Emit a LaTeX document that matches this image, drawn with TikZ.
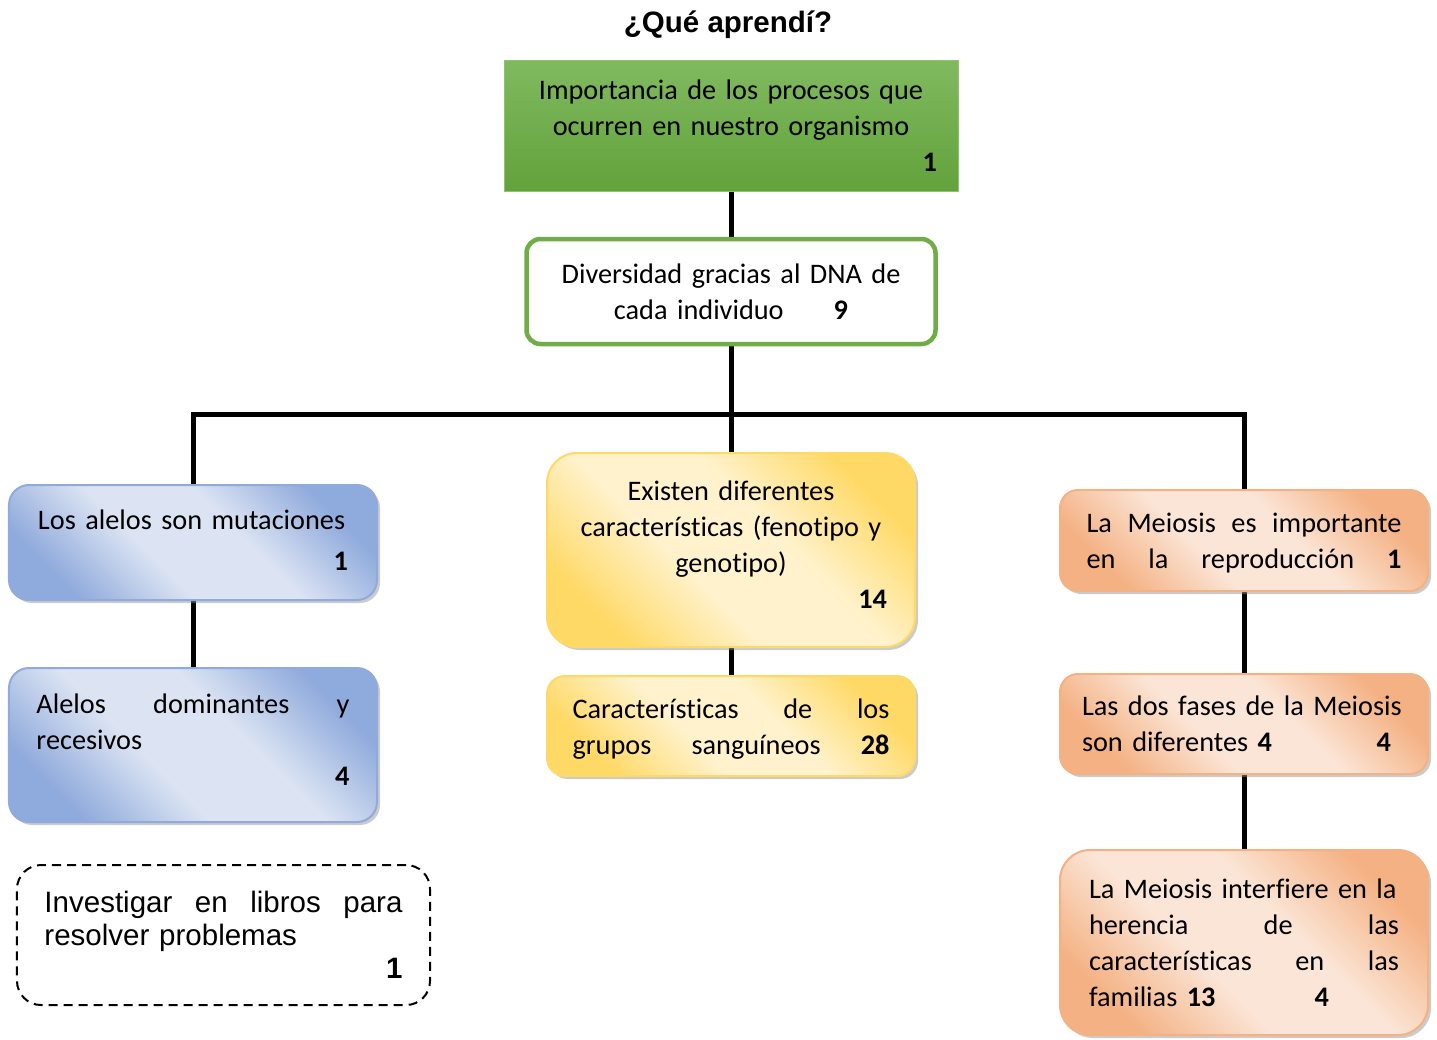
\documentclass[tikz,border=0pt]{standalone}
\usepackage{fontspec}
\setmainfont{Carlito}[Ligatures=NoCommon]
\newfontfamily\arialfont{Liberation Sans}
\usetikzlibrary{positioning,shadows,backgrounds}
\hyphenpenalty=10000
\exhyphenpenalty=10000

\definecolor{greenT}{HTML}{80BA60}
\definecolor{greenB}{HTML}{62A23B}
\definecolor{greenEdge}{HTML}{8CC46C}
\definecolor{divEdge}{HTML}{70AD47}
\definecolor{blueD}{HTML}{8FAADC}
\definecolor{blueL}{HTML}{DCE4F3}
\definecolor{yellowD}{HTML}{FFD966}
\definecolor{yellowL}{HTML}{FFF2CC}
\definecolor{orangeD}{HTML}{F4B183}
\definecolor{orangeL}{HTML}{FBE5D6}

\pgfdeclarehorizontalshading{blueglow}{100bp}{color(0bp)=(blueD); color(25bp)=(blueD); color(42bp)=(blueL); color(58bp)=(blueL); color(75bp)=(blueD); color(100bp)=(blueD)}
\pgfdeclarehorizontalshading{yellowglow}{100bp}{color(0bp)=(yellowD); color(25bp)=(yellowD); color(42bp)=(yellowL); color(58bp)=(yellowL); color(75bp)=(yellowD); color(100bp)=(yellowD)}
\pgfdeclarehorizontalshading{orangeglow}{100bp}{color(0bp)=(orangeD); color(25bp)=(orangeD); color(42bp)=(orangeL); color(58bp)=(orangeL); color(75bp)=(orangeD); color(100bp)=(orangeD)}

\begin{document}
\begin{tikzpicture}[x=1bp,y=-1bp,outer sep=0pt,
        every node/.style={font=\fontsize{28.3bp}{36bp}\selectfont,inner sep=0pt},
        link/.style={line width=5bp},
        soft box/.style={rounded corners=#1,line width=2bp,minimum width=368bp,align=left,
          shading angle=45,
          drop shadow={shadow xshift=3bp,shadow yshift=-3bp,fill=black!45,opacity=.45}},
        blue box/.style={soft box=20bp,draw=blueD,shading=blueglow},
        yellow box/.style={soft box=#1,draw=yellowD,shading=yellowglow},
        orange box/.style={soft box=#1,draw=orangeD,shading=orangeglow}]
        \useasboundingbox (0,0) rectangle (1437,1039);

        \node[font=\arialfont\fontsize{29.5bp}{36bp}\selectfont\bfseries] (title) at (728,25) {¿Qué aprendí?};

        \node[draw=greenEdge,line width=1bp,top color=greenT,bottom color=greenB,
          minimum width=454bp,minimum height=131bp,text width=412bp,align=center] (imp) at (731,125.5)
          {Importancia de los procesos que\\ocurren en nuestro organismo\\\hspace*{\fill}\textbf{1}};
        \node[draw=divEdge,line width=4.5bp,rounded corners=14bp,fill=white,
          minimum width=409bp,minimum height=105bp,text width=380bp,align=center] (div) [below=48bp of imp]
          {Diversidad gracias al DNA de\\cada individuo\hspace{50bp}\textbf{9}};

        % left branch
        \node[blue box,minimum height=115bp,text width=310bp,text depth=45bp] (alelos) at (193,542.5)
          {Los alelos son mutaciones\\[5bp]\hspace*{\fill}\textbf{1}};
        \node[blue box,minimum height=154bp,text width=313bp,text depth=82bp] (domin) [below=68bp of alelos]
          {Alelos\hfill dominantes\hfill y\\recesivos\\\hspace*{\fill}\textbf{4}};
        \node[draw,dashed,dash pattern=on 9bp off 6bp,line width=2bp,rounded corners=24bp,
          minimum width=413bp,minimum height=140bp,text width=358bp,align=left,
          font=\arialfont\fontsize{29.5bp}{33bp}\selectfont] (invest) at (223.5,935)
          {Investigar\hfill en\hfill libros\hfill para\\resolver problemas\\\hspace*{\fill}\textbf{1}};

        % middle branch
        \node[yellow box=30bp,minimum height=194bp,text width=312bp,text depth=118bp,align=center] (existen) at (731,550)
          {Existen diferentes\\características (fenotipo y\\genotipo)\\\hspace*{\fill}\textbf{14}};
        \node[yellow box=18bp,minimum height=100bp,text width=317bp,text depth=35bp] (grupos) [below=29bp of existen]
          {Características\hfill de\hfill los\\grupos\hfill sanguíneos\hfill\textbf{28}};

        % right branch
        \node[orange box=18bp,minimum height=101bp,text width=315bp,text depth=35bp] (meio) at (1244,540.5)
          {La\hfill Meiosis\hfill es\hfill importante\\en\hfill la\hfill reproducción\hfill\textbf{1}};
        \node[orange box=18bp,minimum height=100bp,text width=324bp] (fases) [below=83bp of meio]
          {Las dos fases de la Meiosis\\son diferentes \textbf{4}\hfill\textbf{4}\hspace{15bp}\mbox{}};
        \node[orange box=30bp,minimum height=185bp,text width=310bp] (hered) [below=76bp of fases]
          {La Meiosis interfiere en la\\herencia\hfill de\hfill las\\características\hfill en\hfill las\\familias \textbf{13}\hfill\textbf{4}\hspace{70bp}\mbox{}};

        \coordinate (fork) at (731,414);
        \begin{scope}[on background layer]
        \draw[link] (imp) -- (div);
        \draw[link] (div) -- (existen);
        \draw[link] (existen) -- (grupos);
        \draw[link] (alelos) |- (fork) -| (meio);
        \draw[link] (alelos) -- (domin);
        \draw[link] (meio) -- (fases);
        \draw[link] (fases) -- (hered);
        \end{scope}
\end{tikzpicture}
\end{document}
